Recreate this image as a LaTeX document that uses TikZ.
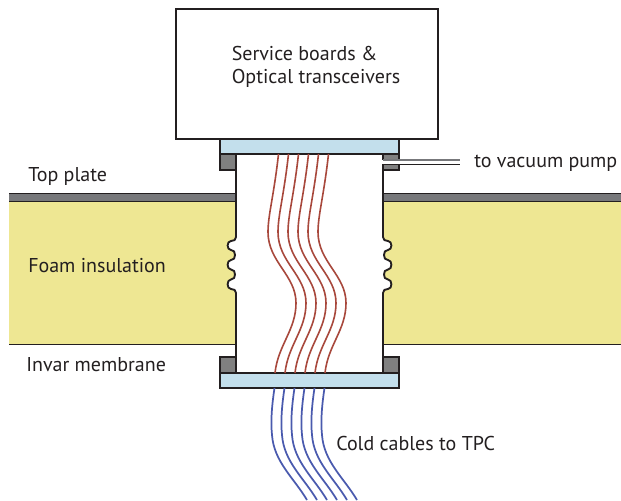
\documentclass[tikz,border=0pt]{standalone}
\usepackage{fontspec}
\setmainfont{PT Sans}
\definecolor{foam}{HTML}{EEE793}
\definecolor{plate}{HTML}{77787B}
\definecolor{flange}{HTML}{808080}
\definecolor{cold}{HTML}{C3DFEC}
\definecolor{redw}{HTML}{A8483C}
\definecolor{bluew}{HTML}{4A5AAE}
\definecolor{edge}{HTML}{231F20}
\tikzset{
  solid part/.style={draw=edge,line width=1.4pt,line join=miter},
  label text/.style={text=edge,font=\fontsize{15}{18}\selectfont,inner sep=0pt},
  warm wire/.style={draw=redw,line width=1.2pt},
  cold wire/.style={draw=bluew,line width=1.3pt}
}
\begin{document}
\begin{tikzpicture}[x=0.75pt,y=-0.75pt]
\useasboundingbox (0,0) rectangle (621,500);
% foam
\fill[foam] (9,201) rectangle (237,344);
\fill[foam] (382,201) rectangle (621,344);
\draw[edge,line width=0.7pt] (9,344) -- (237,344) (382,344) -- (621,344);
% top plate
\fill[plate] (9,193) rectangle (237,201);
\fill[plate] (382,193) rectangle (621,201);
\draw[edge,line width=0.5pt] (9,193) -- (237,193) (382,193) -- (621,193);
\draw[edge,line width=0.5pt] (9,201) -- (237,201) (382,201) -- (621,201);
% flanges
\draw[solid part,fill=flange] (220,153) rectangle (236,170);
\draw[solid part,fill=flange] (383,153) rectangle (399,170);
\draw[solid part,fill=flange] (220,357) rectangle (236,373);
\draw[solid part,fill=flange] (383,357) rectangle (399,373);
% tube with bellows
\draw[solid part,fill=white,line join=round]
 (236,153) -- (236,237)
 .. controls (236,240) and (234,241) .. (231,241)
 .. controls (226.5,241) and (226.5,250) .. (231,250)
 .. controls (234,250) and (235,252) .. (235,255)
 .. controls (235,258) and (234,260) .. (231,260)
 .. controls (226.5,260) and (226.5,269.5) .. (231,269.5)
 .. controls (234,269.5) and (235,272) .. (235,274.5)
 .. controls (235,277) and (234,279.5) .. (231,279.5)
 .. controls (226.5,279.5) and (226.5,289) .. (231,289)
 .. controls (234,289) and (236,290) .. (236,293)
 -- (236,373) -- (383,373) -- (383,293)
 .. controls (383,290) and (385,289) .. (388,289)
 .. controls (392.5,289) and (392.5,279.5) .. (388,279.5)
 .. controls (385,279.5) and (384,277) .. (384,274.5)
 .. controls (384,272) and (385,269.5) .. (388,269.5)
 .. controls (392.5,269.5) and (392.5,260) .. (388,260)
 .. controls (385,260) and (384,258) .. (384,255)
 .. controls (384,252) and (385,250) .. (388,250)
 .. controls (392.5,250) and (392.5,241) .. (388,241)
 .. controls (385,241) and (383,240) .. (383,237)
 -- (383,153) -- cycle;
% vacuum line
\fill[white] (381,160) rectangle (459,163.5);
\draw[plate,line width=0.9pt] (383,160) -- (460,160);
\draw[edge,line width=0.7pt] (383,164) -- (460,164);
% blue plates
\draw[solid part,fill=cold] (220,139) rectangle (399,154);
\draw[solid part,fill=cold] (220,373) rectangle (399,388);
% service box
\node[solid part,fill=white,minimum width=196.5pt,minimum height=97.5pt,inner sep=0pt,anchor=north west] (box) at (175,8) {};
% wires
\foreach \d in {0,10,20,30,40,50}{
  \draw[warm wire] (278.5+\d,154) .. controls (274+\d,195) and (268+\d,215) .. (268+\d,232)
    .. controls (268+\d,262) and (296+\d,275) .. (296+\d,303)
    .. controls (296+\d,330) and (278+\d,345) .. (275+\d,373);
  \draw[cold wire] (274.5+\d,388) .. controls (272+\d,405) and (270.5+\d,420) .. (272+\d,435)
    .. controls (274+\d,462) and (294+\d,478) .. (307+\d,500);
}
% labels
\node[label text,anchor=west] (svc1) at (231.5,53) {Service boards \&};
\node[label text,anchor=west] (svc2) at (231.5,78) {Optical transceivers};
\node[label text,anchor=west] (pump) at (474,163.5) {to vacuum pump};
\node[label text,anchor=west] (top) at (28,176.5) {Top plate};
\node[label text,anchor=west] (foamt) at (28,266) {Foam insulation};
\node[label text,anchor=west] (invar) at (26,365) {Invar membrane};
\node[label text,anchor=west] (cables) at (336,443) {Cold cables to TPC};
\end{tikzpicture}
\end{document}
